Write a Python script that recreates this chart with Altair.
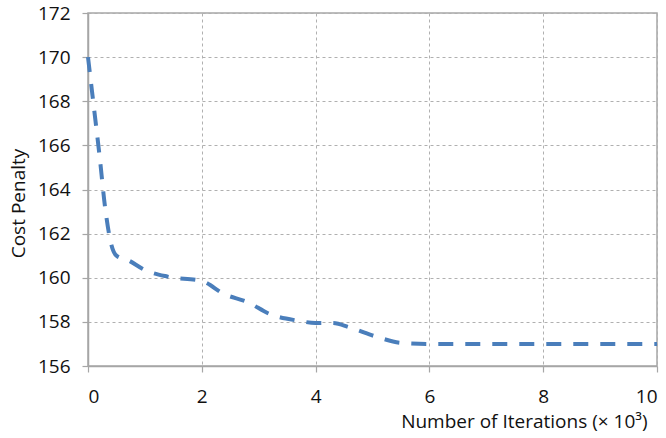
import altair as alt
import pandas as pd

iterations = [0, 0.1, 0.2, 0.3, 0.4, 0.5, 0.7, 1.0, 1.4, 2.0, 2.4, 2.8, 3.2, 3.7,
              4.0, 4.3, 4.6, 5.1, 5.5, 6.0, 7, 8, 9, 10]
cost = [170, 167.8, 165.6, 163.2, 161.6, 161.0, 160.8, 160.35, 160.05, 159.85,
        159.25, 158.9, 158.35, 158.05, 157.95, 157.95, 157.75, 157.3, 157.05,
        157.0, 157, 157, 157, 157]

df = pd.DataFrame({"x": iterations, "y": cost})

FONT = "Open Sans"
TXT = "#111111"

chart = alt.Chart(df).mark_line(
    color="#4a7ebb", strokeWidth=4, strokeDash=[15, 12], interpolate="monotone"
).encode(
    x=alt.X("x:Q", scale=alt.Scale(domain=[0, 10], nice=False),
            axis=alt.Axis(values=[0, 2, 4, 6, 8, 10], format="d",
                          title="Number of Iterations (× 10³)",
                          titleAnchor="end", titleAlign="right",
                          titleX=559, titleY=55, titleBaseline="middle",
                          labelPadding=15)),
    y=alt.Y("y:Q", scale=alt.Scale(domain=[156, 172], nice=False, zero=False),
            axis=alt.Axis(values=list(range(156, 173, 2)),
                          title="Cost Penalty", titleAngle=270,
                          titleX=-70, titleY=190, titleAlign="center",
                          titleBaseline="middle", labelPadding=12)),
).properties(
    width=569, height=353,
    autosize=alt.AutoSizeParams(type="none"),
    padding={"left": 88, "top": 13, "right": 9, "bottom": 72},
).configure_view(
    stroke="#a6a6a6", strokeWidth=1.5
).configure_axis(
    labelFont=FONT, titleFont=FONT, labelFontSize=19, titleFontSize=19,
    labelColor=TXT, titleColor=TXT, titleFontWeight="normal",
    domainColor="#a6a6a6", domainWidth=1.5, tickColor="#a6a6a6", tickSize=6,
    tickWidth=1.2, gridColor="#b0b0b0", gridDash=[3, 3], gridWidth=1
)

chart.save("out.html", embed_options={"renderer": "svg", "actions": False})
